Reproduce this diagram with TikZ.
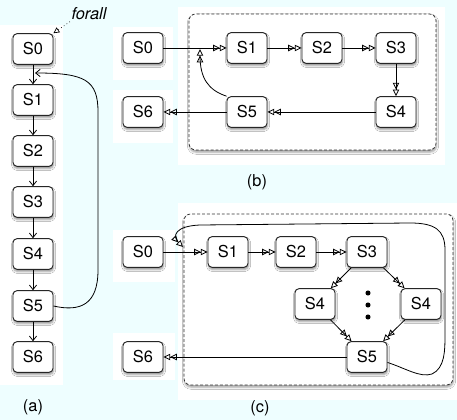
\documentclass[tikz,border=0pt]{standalone}
\usepackage{fontspec}
\setmainfont{TeX Gyre Heros}
\usepackage{tikz}
\usetikzlibrary{calc,positioning,arrows.meta,shadows.blur}
\definecolor{bgcyan}{RGB}{238,254,255}
\tikzset{
    stbox/.style={draw=black!85, line width=0.7pt, rounded corners=3pt, fill=white,
        minimum width=30pt, minimum height=23pt, inner sep=0pt,
        font=\fontsize{12.3}{14}\selectfont,
        blur shadow={shadow xshift=0.4pt, shadow yshift=-1.6pt, shadow blur radius=1.6pt, shadow opacity=45}},
    frame/.style={draw=black!80, line width=0.6pt, dash pattern=on 2.2pt off 1.5pt, rounded corners=5pt, fill=white,
        blur shadow={shadow xshift=0.4pt, shadow yshift=-1.6pt, shadow blur radius=1.6pt, shadow opacity=40}},
    dbl/.style={line width=0.6pt, -{Triangle[open,length=5pt,width=4.8pt]Triangle[open,length=5pt,width=4.8pt]}},
    sgl/.style={line width=0.6pt, -{Straight Barb[length=3.4pt,width=5.4pt]}},
    sublabel/.style={font=\fontsize{12.3}{14}\selectfont},
}
\begin{document}
\begin{tikzpicture}[x=0.75pt,y=0.75pt,yscale=-1,xscale=1]
%Background
\fill[bgcyan] (0,0) rectangle (457,420);
\useasboundingbox (0,0) rectangle (457,420);
\fill[white] (0,25) rectangle (63,385);
\fill[white] (178,7) rectangle (445,165);
\fill[white] (113,27) rectangle (173,80);
\fill[white] (113,90) rectangle (173,143);
\fill[white] (178,203) rectangle (457,400);
\fill[white] (113,230) rectangle (175,282);
\fill[white] (113,333) rectangle (175,380);
%Dashed frames
\draw[frame] (189,14) rectangle (436,150);
\draw[frame] (184,214) rectangle (453,385);

%(a) column
\foreach \i/\yy in {0/49,1/100,2/151,3/202,4/254,5/306,6/357}
    \node[stbox] (aS\i) at (33,\yy) {S\i};
\foreach \i/\j in {0/1,1/2,2/3,3/4,4/5,5/6}
    \draw[sgl] (aS\i) -- (aS\j);
\coordinate (a01) at (35,73);
\draw[sgl] (aS5.east) .. controls (80,312) and (98,305) .. (98,270) -- (98,112) .. controls (98,80) and (85,73) .. (a01);
\node[font=\itshape\fontsize{12.3}{14}\selectfont, inner sep=1pt] (forall) at (89,14) {forall};
\draw[dotted, line width=0.5pt, -{Triangle[open,length=4.4pt,width=4.4pt]}] (forall.south west) -- (aS0.north east);
\node[sublabel] (la) at (33,407) {(a)};

%(b)
\node[stbox] (bS0) at (143,48) {S0};
\node[stbox] (bS1) at (247,48) {S1};
\node[stbox] (bS2) at (322,48) {S2};
\node[stbox] (bS3) at (396,48) {S3};
\node[stbox] (bS4) at (396,112) {S4};
\node[stbox] (bS5) at (247,112) {S5};
\node[stbox] (bS6) at (143,112) {S6};
\draw[dbl] (bS0) -- (bS1);
\draw[dbl] (bS1) -- (bS2);
\draw[dbl] (bS2) -- (bS3);
\draw[dbl] (bS3) -- (bS4);
\draw[dbl] (bS4) -- (bS5);
\draw[dbl] (bS5) -- (bS6);
\coordinate (b01) at (200,49);
\draw[dbl] (bS5.north west) .. controls (208,90) and (200,78) .. (b01);
\node[sublabel] (lb) at (257,182) {(b)};

%(c)
\node[stbox] (cS0) at (143,252) {S0};
\node[stbox] (cS1) at (228,252) {S1};
\node[stbox] (cS2) at (296,252) {S2};
\node[stbox] (cS3) at (367,252) {S3};
\node[stbox] (cS4a) at (315,304) {S4};
\node[stbox] (cS4b) at (421,304) {S4};
\node[stbox] (cS5) at (367,357) {S5};
\node[stbox] (cS6) at (143,357) {S6};
\foreach \k/\yy in {1/293,2/305,3/317}
    \fill (368,\yy) circle (1.9pt);
\draw[dbl] (cS0) -- (cS1);
\draw[dbl] (cS1) -- (cS2);
\draw[dbl] (cS2) -- (cS3);
\draw[dbl] (cS3) -- (cS4a);
\draw[dbl] (cS3) -- (cS4b);
\draw[dbl] (cS4a) -- (cS5);
\draw[dbl] (cS4b) -- (cS5);
\draw[dbl] (cS5) -- (cS6);
\coordinate (c01) at (183,247);
\draw[dbl] (cS5.-15) .. controls (405,368) and (420,378) .. (432,374) .. controls (445,368) and (445,350) .. (445,335) -- (445,250) .. controls (445,230) and (435,223) .. (410,223) -- (200,225) .. controls (175,226) and (172,236) .. (c01);
\node[sublabel] (lc) at (260,408) {(c)};
\end{tikzpicture}
\end{document}
